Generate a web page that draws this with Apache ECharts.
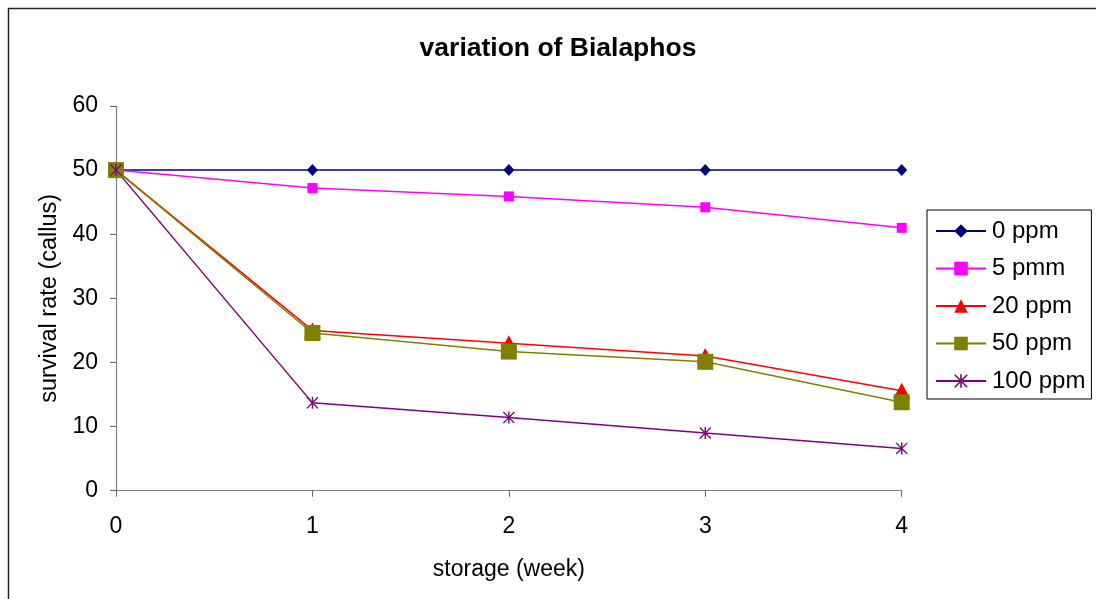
<!DOCTYPE html>
<html>
<head>
<meta charset="utf-8">
<script src="https://cdn.jsdelivr.net/npm/echarts@6/dist/echarts.min.js"></script>
<style>
  html, body { margin: 0; padding: 0; background: #fff; }
  #chart { width: 1096px; height: 599px; }
</style>
</head>
<body>
<div id="chart"></div>
<script>
// Storage time in weeks
const weeks = ['0', '1', '2', '3', '4'];

// Surviving calli per Bialaphos concentration
const ppm0   = [50, 50, 50, 50, 50];
const ppm5   = [50, 47.2, 45.9, 44.2, 41.0];
const ppm20  = [50, 25.0, 23.0, 21.0, 15.6];
const ppm50  = [50, 24.6, 21.7, 20.1, 13.8];
const ppm100 = [50, 13.7, 11.4, 9.0, 6.6];

const seriesNames = ['0 ppm', '5 pmm', '20 ppm', '50 ppm', '100 ppm'];

// Filled asterisk: one vertical bar plus two diagonal bars
const asterisk = 'path://M44,0 L56,0 L56,100 L44,100 Z M0,8 L8,0 L100,92 L92,100 Z M92,0 L100,8 L8,100 L0,92 Z';

const FONT = '"Liberation Sans", Arial, Helvetica, sans-serif';

function lineSeries(name, data, color, symbol, size) {
  return {
    name: name,
    type: 'line',
    data: data,
    symbol: symbol,
    symbolSize: size,
    showSymbol: true,
    lineStyle: { color: color, width: 1.5 },
    itemStyle: { color: color },
    emphasis: { disabled: true },
    animation: false
  };
}

const chart = echarts.init(document.getElementById('chart'), null, { renderer: 'canvas' });

chart.setOption({
  backgroundColor: '#ffffff',
  animation: false,
  title: {
    text: 'variation of Bialaphos',
    left: 553,
    textAlign: 'center',
    top: 30,
    textStyle: { fontFamily: FONT, fontSize: 26.5, fontWeight: 'bold', color: '#000' }
  },
  legend: {
    orient: 'vertical',
    left: 927,
    top: 210,
    width: 164,
    padding: [7, 6, 4, 8],
    itemWidth: 50,
    itemHeight: 17,
    itemGap: 9.5,
    borderColor: '#000',
    borderWidth: 1,
    data: seriesNames,
    textStyle: { fontFamily: FONT, fontSize: 24, color: '#000', lineHeight: 28, padding: [0, 0, 0, 1] }
  },
  grid: {
    left: 116,
    right: 194.3,
    top: 106,
    bottom: 108.3,
    containLabel: false
  },
  xAxis: {
    type: 'category',
    data: weeks,
    boundaryGap: false,
    name: 'storage (week)',
    nameLocation: 'middle',
    nameGap: 67,
    nameTextStyle: { fontFamily: FONT, fontSize: 23, color: '#000' },
    axisLine: { show: true, lineStyle: { color: '#808080', width: 1.2 } },
    axisTick: { show: true, alignWithLabel: true, length: 6, lineStyle: { color: '#606060' } },
    axisLabel: { fontFamily: FONT, fontSize: 23, color: '#000', margin: 24 },
    splitLine: { show: false }
  },
  yAxis: {
    type: 'value',
    min: 0,
    max: 60,
    interval: 10,
    name: 'survival rate (callus)',
    nameLocation: 'middle',
    nameGap: 54,
    nameTextStyle: { fontFamily: FONT, fontSize: 23.5, color: '#000' },
    axisLine: { show: true, lineStyle: { color: '#808080', width: 1.2 } },
    axisTick: { show: true, length: 6, lineStyle: { color: '#606060' } },
    axisLabel: { fontFamily: FONT, fontSize: 23, color: '#000', margin: 18 },
    splitLine: { show: false }
  },
  graphic: [
    {
      type: 'rect',
      silent: true,
      shape: { x: 8.5, y: 8.5, width: 1200, height: 700 },
      style: { fill: 'none', stroke: '#222', lineWidth: 1.5 },
      z: 100
    }
  ],
  series: [
    lineSeries(seriesNames[0], ppm0, '#000080', 'diamond', [11, 12]),
    lineSeries(seriesNames[1], ppm5, '#FF00FF', 'rect', 10),
    lineSeries(seriesNames[2], ppm20, '#FF0000', 'triangle', [17, 16]),
    lineSeries(seriesNames[3], ppm50, '#808000', 'rect', 16),
    lineSeries(seriesNames[4], ppm100, '#800080', asterisk, 12)
  ]
});
</script>
</body>
</html>
